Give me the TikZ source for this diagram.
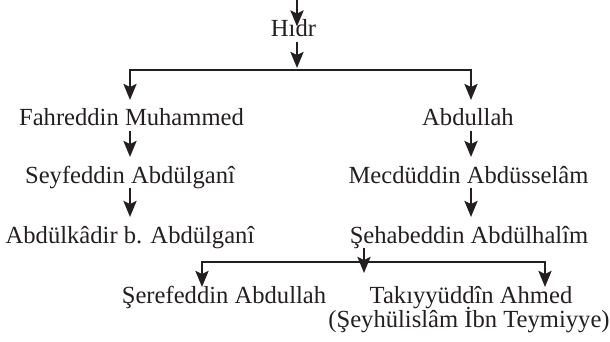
\documentclass[tikz,border=0pt]{standalone}
\usepackage{fontspec}
\setmainfont{Liberation Serif}
\usetikzlibrary{arrows.meta}
\definecolor{ink}{RGB}{35,31,32}

\begin{document}
\begin{tikzpicture}[x=0.5pt,y=-0.5pt,
    every node/.style={font=\fontsize{12.3}{11}\selectfont, text=ink},
    person/.style={inner sep=0pt, outer sep=0pt, anchor=base, text height=13pt, text depth=2.5pt},
    lastperson/.style={person, text height=8pt},
    link/.style={draw=ink, line width=1.2pt, -{Stealth[length=8pt,width=6.5pt,inset=1.5pt]}},
    fork/.style={link, {Stealth[length=8pt,width=6.5pt,inset=1.5pt]}-{Stealth[length=8pt,width=6.5pt,inset=1.5pt]}}]
        \useasboundingbox (0,0) rectangle (610,342);
        % Names
        \node[person] (hidr) at (293.5,37) {Hıdr};
        \node[person] (fahr) at (131.5,126) {Fahreddin Muhammed};
        \node[person] (abd) at (468,126) {Abdullah};
        \node[person] (seyf) at (130,183) {Seyfeddin Abdülganî};
        \node[person] (mecd) at (468.5,183) {Mecdüddin Abdüsselâm};
        \node[person] (abdk) at (130,243) {Abdülkâdir b. Abdülganî};
        \node[person] (sehab) at (469,243) {Şehabeddin Abdülhalîm};
        \node[lastperson] (seref) at (224,303) {Şerefeddin Abdullah};
        \node[lastperson] (tak) at (471,303) {Takıyyüddîn Ahmed};
        \node[lastperson] (teym) at (469,327) {(Şeyhülislâm İbn Teymiyye)};
        % Branch points
        \coordinate (top) at (297,0);
        \coordinate (split1) at (297,70);
        \coordinate (colL) at (130,0);
        \coordinate (colR) at (471,0);
        \coordinate (split2) at (364,262);
        \coordinate (tip2) at (364,273);
        \coordinate (colA) at (202,0);
        \coordinate (colB) at (545,0);
        % Arrows
        \draw[link] (top) -- (top |- hidr.center);
        \draw[link] (hidr.south -| top) -- ([yshift=1pt]split1);
        \draw[fork] (fahr.north -| colL) |- (split1) -| (abd.north -| colR);
        \draw[link] (fahr.south -| colL) -- (seyf.north -| colL);
        \draw[link] (seyf.south -| colL) -- (abdk.north -| colL);
        \draw[link] (abd.south -| colR) -- (mecd.north -| colR);
        \draw[link] (mecd.south -| colR) -- (sehab.north -| colR);
        \draw[fork] (seref.north -| colA) |- (split2) -| (tak.north -| colB);
        \draw[link] (sehab.south -| tip2) -- (tip2);
    \end{tikzpicture}
\end{document}
